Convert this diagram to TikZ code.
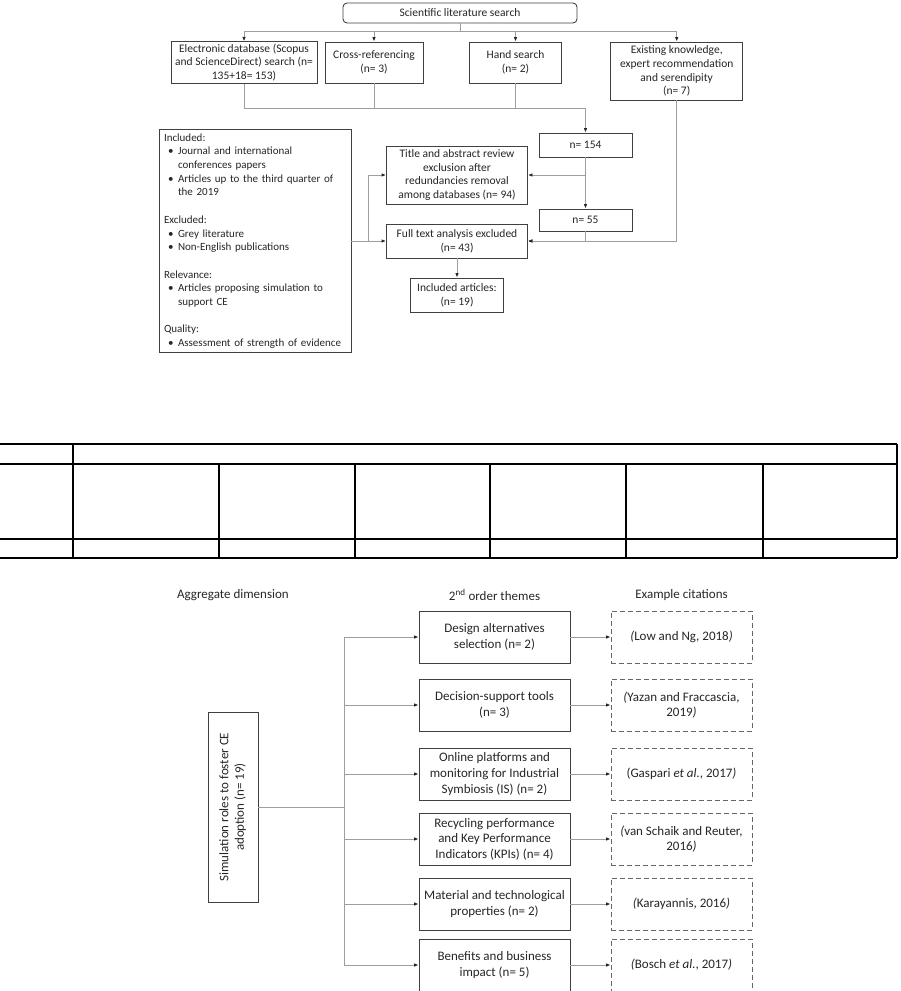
\documentclass[tikz,border=0pt]{standalone}
\usepackage{fontspec}
\setmainfont{Carlito}
\usepackage{graphicx}
\usetikzlibrary{arrows.meta,calc}

\newcommand{\critbul}{\makebox[14pt][l]{\hspace{4pt}\textbullet}}
\newcommand{\critind}{\hspace*{14pt}}

\begin{document}
\begin{tikzpicture}[x=1pt, y=-1pt,
  box/.style={draw=black!75, line width=0.9pt, fill=white, align=center, inner sep=2pt,
    font=\fontsize{11.5}{13.7}\selectfont, text=black!85},
  theme/.style={box, minimum width=151pt, minimum height=52pt,
    font=\fontsize{13}{15.6}\selectfont},
  citebox/.style={theme, draw=black!60, dash pattern=on 5pt off 3pt, minimum width=141pt},
  link/.style={draw=black!38, line width=0.9pt},
  arr/.style={link, -{Latex[length=4.5pt, width=3.6pt, color=black!85]}},
  rule/.style={draw=black, line width=1.2pt},
  head/.style={font=\fontsize{13}{15.6}\selectfont, text=black!85}
]
  \useasboundingbox (0,0) rectangle (901,991);

  % search flow
  \node[box, rounded corners=4pt, minimum width=234pt, minimum height=20pt] (search) at (460,13) {Scientific literature search};
  \node[box, minimum width=146pt, minimum height=41pt] (elec) at (244,62.5) {Electronic database (Scopus\\and ScienceDirect) search (n=\\135+18= 153)};
  \node[box, minimum width=98pt, minimum height=41pt] (cross) at (374,62.5) {Cross-referencing\\(n= 3)};
  \node[box, minimum width=92pt, minimum height=41pt] (hand) at (515.5,62.5) {Hand search\\(n= 2)};
  \node[box, minimum width=132pt, minimum height=58pt] (exist) at (676.7,71) {Existing knowledge,\\expert recommendation\\and serendipity\\(n= 7)};
  \node[box, minimum width=93pt, minimum height=24pt] (n154) at (585.5,145) {n= 154};
  \node[box, minimum width=141pt, minimum height=58pt] (title) at (457,175) {Title and abstract review\\exclusion after\\redundancies removal\\among databases (n= 94)};
  \node[box, minimum width=93pt, minimum height=22pt] (n55) at (585.5,220) {n= 55};
  \node[box, minimum width=141pt, minimum height=34pt] (full) at (457,241) {Full text analysis excluded\\(n= 43)};
  \node[box, minimum width=93pt, minimum height=34pt] (incl) at (457,295) {Included articles:\\(n= 19)};
  \node[box, align=left, text width=182pt, inner xsep=5pt, minimum height=223pt,
    font=\fontsize{11}{13.7}\selectfont] (crit) at (255,241) {Included:\\
    \critbul Journal and international\\
    \critind conferences papers\\
    \critbul Articles up to the third quarter of\\
    \critind the 2019\\[13.7pt]
    Excluded:\\
    \critbul Grey literature\\
    \critbul Non-English publications\\[13.7pt]
    Relevance:\\
    \critbul Articles proposing simulation to\\
    \critind support CE\\[13.7pt]
    Quality:\\
    \critbul Assessment of strength of evidence};

  \coordinate (fan) at (0,31);
  \coordinate (merge) at (0,108);
  \draw[link] (search.south) -- (search.south |- fan);
  \draw[link] (elec.north |- fan) -- (exist.north |- fan);
  \draw[arr] (elec.north |- fan) -- (elec.north);
  \draw[arr] (cross.north |- fan) -- (cross.north);
  \draw[arr] (hand.north |- fan) -- (hand.north);
  \draw[arr] (exist.north |- fan) -- (exist.north);
  \draw[link] (elec.south) |- (n154.north |- merge);
  \draw[link] (cross.south) -- (cross.south |- merge);
  \draw[link] (hand.south) -- (hand.south |- merge);
  \draw[arr] (n154.north |- merge) -- (n154.north);
  \draw[arr] (n154.south) -- (n55.north);
  \draw[arr] (n154.south |- title.east) -- (title.east);
  \draw[arr] (n55.south) |- (full.east);
  \draw[arr] (exist.south) |- (full.east);
  \draw[arr] (crit.east) -- (full.west);
  \draw[arr] ($(crit.east)!.5!(full.west)$) |- (title.west);
  \draw[arr] (full.south) -- (incl.north);

  % table rules
  \foreach \y in {444,464,539,558} \draw[rule] (0,\y) -- (897,\y);
  \draw[rule] (73,444) -- (73,558);
  \draw[rule] (897,444) -- (897,558);
  \foreach \x in {219,355,490,626,763} \draw[rule] (\x,464) -- (\x,558);

  % themes
  \node[head] (aggr) at (233,595) {Aggregate dimension};
  \node[head] (order) at (494.5,595) {2\textsuperscript{nd} order themes};
  \node[head] (excit) at (681.5,595) {Example citations};

  \node[box, minimum width=50pt, minimum height=190pt, font=\fontsize{13}{15.6}\selectfont] (sim) at (233,807)
    {\rotatebox{90}{\begin{tabular}{@{}c@{}}Simulation roles to foster CE\\adoption (n= 19)\end{tabular}}};

  \node[theme] (t1) at (494.5,637) {Design alternatives\\selection (n= 2)};
  \node[theme] (t2) at (494.5,705) {Decision-support tools\\(n= 3)};
  \node[theme] (t3) at (494.5,774) {Online platforms and\\monitoring for Industrial\\Symbiosis (IS) (n= 2)};
  \node[theme] (t4) at (494.5,839) {Recycling performance\\and Key Performance\\Indicators (KPIs) (n= 4)};
  \node[theme] (t5) at (494.5,904) {Material and technological\\properties (n= 2)};
  \node[theme] (t6) at (494.5,965) {Benefits and business\\impact (n= 5)};

  \node[citebox] (c1) at (681.5,637) {\textit{(}Low and Ng, 2018\textit{)}};
  \node[citebox] (c2) at (681.5,705) {\textit{(}Yazan and Fraccascia,\\2019\textit{)}};
  \node[citebox] (c3) at (681.5,774) {(Gaspari \textit{et al.}, 2017\textit{)}};
  \node[citebox] (c4) at (681.5,839) {\textit{(}van Schaik and Reuter,\\2016\textit{)}};
  \node[citebox] (c5) at (681.5,904) {\textit{(}Karayannis, 2016\textit{)}};
  \node[citebox] (c6) at (681.5,965) {\textit{(}Bosch \textit{et al.}, 2017\textit{)}};

  \coordinate (trunk) at (344,0);
  \draw[link] (t1.west -| trunk) -- (t6.west -| trunk);
  \draw[link] (sim.east) -- (sim.east -| trunk);
  \draw[arr] (t1.west -| trunk) -- (t1.west);
  \draw[arr] (t2.west -| trunk) -- (t2.west);
  \draw[arr] (t3.west -| trunk) -- (t3.west);
  \draw[arr] (t4.west -| trunk) -- (t4.west);
  \draw[arr] (t5.west -| trunk) -- (t5.west);
  \draw[arr] (t6.west -| trunk) -- (t6.west);
  \draw[arr] (t1.east) -- (c1.west);
  \draw[arr] (t2.east) -- (c2.west);
  \draw[arr] (t3.east) -- (c3.west);
  \draw[arr] (t4.east) -- (c4.west);
  \draw[arr] (t5.east) -- (c5.west);
  \draw[arr] (t6.east) -- (c6.west);
\end{tikzpicture}
\end{document}
